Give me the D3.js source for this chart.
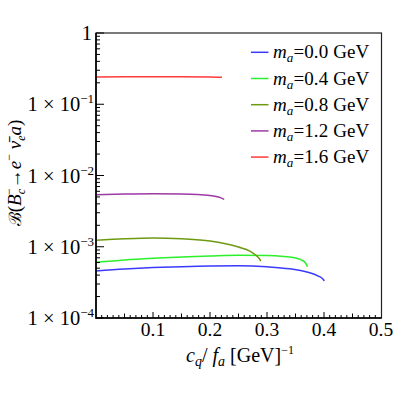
<!DOCTYPE html>
<html>
<head>
<meta charset="utf-8">
<script src="https://cdn.jsdelivr.net/npm/d3@7"></script>
<style>
  body { margin: 0; background: #fff; }
  svg text { font-family: "Liberation Serif", "DejaVu Serif", serif; }
</style>
</head>
<body>
<svg id="chart" width="395" height="395"></svg>
<script>
// x values (c_q/f_a) and branching ratios
const xs00 = [0, 0.05, 0.1, 0.15, 0.2, 0.25, 0.3, 0.34, 0.37, 0.39, 0.398, 0.4005];
const br00 = [4.57e-4, 4.87e-4, 5.10e-4, 5.26e-4, 5.37e-4, 5.40e-4, 5.23e-4, 4.9e-4, 4.42e-4, 3.88e-4, 3.53e-4, 3.31e-4];

const xs04 = [0, 0.05, 0.1, 0.15, 0.2, 0.25, 0.3, 0.33, 0.35, 0.36, 0.367, 0.371];
const br04 = [6.05e-4, 6.52e-4, 6.88e-4, 7.18e-4, 7.41e-4, 7.59e-4, 7.56e-4, 7.30e-4, 6.95e-4, 6.56e-4, 6.01e-4, 5.25e-4];

const xs08 = [0, 0.05, 0.1, 0.15, 0.2, 0.25, 0.27, 0.28, 0.287, 0.289];
const br08 = [1.231e-3, 1.293e-3, 1.327e-3, 1.293e-3, 1.205e-3, 9.9e-4, 8.7e-4, 7.65e-4, 6.73e-4, 6.3e-4];

const xs12 = [0, 0.05, 0.1, 0.15, 0.2, 0.215, 0.225];
const br12 = [5.38e-3, 5.50e-3, 5.56e-3, 5.50e-3, 5.24e-3, 4.99e-3, 4.63e-3];

const xs16 = [0, 0.05, 0.1, 0.15, 0.2, 0.221];
const br16 = [0.242, 0.243, 0.243, 0.243, 0.242, 0.239];

const masses = ["0.0", "0.4", "0.8", "1.2", "1.6"];
const colors = ["#3a3aff", "#2cf02c", "#6e9a12", "#9c3aa6", "#ff3a3a"];
const series = [[xs00, br00], [xs04, br04], [xs08, br08], [xs12, br12], [xs16, br16]];

const xTicks = [0.1, 0.2, 0.3, 0.4, 0.5];
const yTicks = [1e-4, 1e-3, 1e-2, 1e-1, 1];
const yTickExp = ["−4", "−3", "−2", "−1", null];

const svg = d3.select("#chart");
const pLeft = 96, pRight = 381.5, pTop = 33, pBottom = 318;

const x = d3.scaleLinear().domain([0, 0.5]).range([pLeft, 381]);
const y = d3.scaleLog().domain([1e-4, 1]).range([pBottom, pTop]);

// frame (top/right thin)
svg.append("rect")
  .attr("x", pLeft).attr("y", pTop)
  .attr("width", pRight - pLeft).attr("height", pBottom - pTop)
  .attr("fill", "none").attr("stroke", "#222").attr("stroke-width", 1.2);

// curves
const line = d3.line()
  .x(d => x(d[0]))
  .y(d => y(d[1]))
  .curve(d3.curveMonotoneX);

series.forEach((s, i) => {
  let pts = s[0].map((v, j) => [v, s[1][j]]);
  svg.append("path")
    .attr("d", line(pts))
    .attr("fill", "none")
    .attr("stroke", colors[i])
    .attr("stroke-width", 1.5);
});

// x ticks (inward)
let minorX = d3.range(1, 50).map(k => k / 100);
svg.append("g").selectAll("line")
  .data(minorX)
  .join("line")
  .attr("x1", d => x(d)).attr("x2", d => x(d))
  .attr("y1", pBottom)
  .attr("y2", (d, i) => (i + 1) % 10 === 0 ? pBottom - 6 : ((i + 1) % 5 === 0 ? pBottom - 4.5 : pBottom - 3))
  .attr("stroke", "#000").attr("stroke-width", 1);

svg.append("g").selectAll("text")
  .data(xTicks)
  .join("text")
  .attr("x", d => x(d)).attr("y", 336)
  .attr("text-anchor", "middle")
  .attr("font-size", 19.5)
  .text(d => d.toFixed(1));

// y ticks (inward)
let minorY = [];
for (let e = -4; e < 0; e++) {
  for (let m = 2; m <= 9; m++) minorY.push(m * Math.pow(10, e));
}
svg.append("g").selectAll("line")
  .data(minorY)
  .join("line")
  .attr("x1", pLeft).attr("x2", pLeft + 4)
  .attr("y1", d => y(d)).attr("y2", d => y(d))
  .attr("stroke", "#000").attr("stroke-width", 1);

svg.append("g").selectAll("line")
  .data(yTicks)
  .join("line")
  .attr("x1", pLeft).attr("x2", pLeft + 8)
  .attr("y1", d => y(d)).attr("y2", d => y(d))
  .attr("stroke", "#000").attr("stroke-width", 1);

const yLab = svg.append("g").selectAll("text")
  .data(yTicks)
  .join("text")
  .attr("x", 94).attr("y", d => y(d) + 7)
  .attr("text-anchor", "end")
  .attr("font-size", 20.5);
yLab.each(function(d, i) {
  let t = d3.select(this);
  if (yTickExp[i] === null) { t.attr("x", 92).text("1"); return; }
  t.append("tspan").text("1 × 10");
  t.append("tspan").attr("dy", -8).attr("font-size", 13).text(yTickExp[i]);
});

// left and bottom axis lines (heavier)
svg.append("line").attr("x1", pLeft).attr("x2", pLeft).attr("y1", pTop).attr("y2", pBottom + 0.8)
  .attr("stroke", "#000").attr("stroke-width", 1.6);
svg.append("line").attr("x1", pLeft).attr("x2", pRight).attr("y1", pBottom).attr("y2", pBottom)
  .attr("stroke", "#000").attr("stroke-width", 1.6);

// axis titles
const xt = svg.append("text")
  .attr("x", 240).attr("y", 362)
  .attr("text-anchor", "middle")
  .attr("font-size", 20);
xt.append("tspan").attr("font-style", "italic").text("c");
xt.append("tspan").attr("font-style", "italic").attr("font-size", 14).attr("dy", 4).text("q");
xt.append("tspan").attr("dy", -4).text("/");
xt.append("tspan").attr("font-style", "italic").text(" f");
xt.append("tspan").attr("font-style", "italic").attr("font-size", 14).attr("dy", 4).text("a");
xt.append("tspan").attr("dy", -4).text(" [GeV]");
xt.append("tspan").attr("dy", -8).attr("font-size", 12).text("−1");

const yt = svg.append("text")
  .attr("transform", "translate(21,173) rotate(-90)")
  .attr("text-anchor", "middle")
  .attr("font-size", 19);
yt.append("tspan").attr("font-family", "DejaVu Serif").attr("font-size", 17).text("ℬ");
yt.append("tspan").text("(");
yt.append("tspan").attr("font-style", "italic").text("B");
yt.append("tspan").attr("font-style", "italic").attr("font-size", 12).attr("dy", 4).text("c");
yt.append("tspan").attr("font-size", 12).attr("dy", -12).attr("dx", -6).text("−");
yt.append("tspan").attr("dy", 8).text("→");
yt.append("tspan").attr("font-style", "italic").text("e");
yt.append("tspan").attr("font-size", 12).attr("dy", -8).text("−");
yt.append("tspan").attr("dy", 8).attr("font-style", "italic").text(" ν̄");
yt.append("tspan").attr("font-style", "italic").attr("font-size", 12).attr("dy", 4).text("e");
yt.append("tspan").attr("font-style", "italic").attr("dy", -4).text("a");
yt.append("tspan").text(")");

// legend
const legend = svg.append("g");
masses.forEach((m, i) => {
  let ly = 52.3 + i * 26.2;
  legend.append("line")
    .attr("x1", 251).attr("x2", 268.5)
    .attr("y1", ly).attr("y2", ly)
    .attr("stroke", colors[i]).attr("stroke-width", 1.5);
  let t = legend.append("text")
    .attr("x", 273).attr("y", ly + 6)
    .attr("font-size", 19)
    .attr("letter-spacing", 0.1);
  t.append("tspan").attr("font-style", "italic").text("m");
  t.append("tspan").attr("font-style", "italic").attr("font-size", 13).attr("dy", 4).text("a");
  t.append("tspan").attr("dy", -4).text("=" + m + " GeV");
});
</script>
</body>
</html>
